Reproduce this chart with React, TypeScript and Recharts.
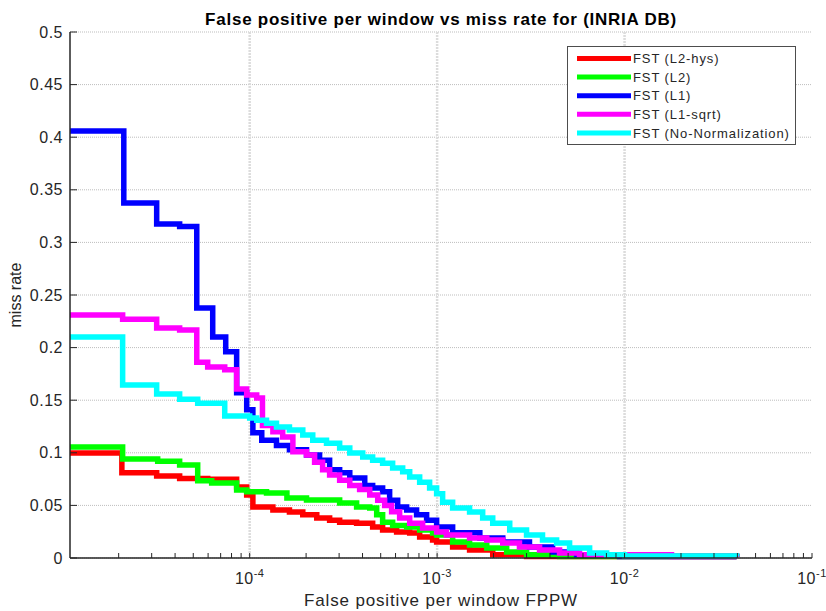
import React from 'react';
import {
  LineChart, Line, XAxis, YAxis, CartesianGrid, Legend, Customized,
} from 'recharts';

// ---------- data ----------
const FPPW_L2HYS = [1.1e-5, 2.08e-5, 3.19e-5, 4.23e-5, 5.97e-5, 8.52e-5, 9.64e-5, 1.04e-4, 1.33e-4, 1.63e-4, 1.92e-4, 2.28e-4, 2.67e-4, 3.02e-4, 3.72e-4, 4.53e-4, 5.12e-4, 6.08e-4, 7.14e-4, 8.07e-4, 9.46e-4, 9.94e-4, 1.21e-3, 1.49e-3, 1.98e-3, 3.0e-3, 3.96e-2];
const MISS_L2HYS = [0.0998, 0.081, 0.078, 0.0755, 0.0748, 0.0675, 0.06, 0.0485, 0.0456, 0.0437, 0.041, 0.038, 0.036, 0.034, 0.033, 0.0295, 0.0266, 0.0247, 0.0238, 0.02, 0.0171, 0.0152, 0.0105, 0.0076, 0.003, 0.0015, 0.001];

const FPPW_L2 = [1.1e-5, 2.1e-5, 3.23e-5, 4.23e-5, 5.28e-5, 6.27e-5, 8.52e-5, 9.64e-5, 1.23e-4, 1.58e-4, 2.01e-4, 3.02e-4, 3.72e-4, 4.37e-4, 4.76e-4, 5.12e-4, 5.79e-4, 6.88e-4, 8.07e-4, 9.46e-4, 9.94e-4, 1.21e-3, 1.49e-3, 1.84e-3, 2.35e-3, 3.0e-3, 4.5e-3, 3.96e-2];
const MISS_L2 = [0.1055, 0.094, 0.092, 0.0884, 0.0735, 0.0713, 0.0646, 0.063, 0.0618, 0.057, 0.0551, 0.0523, 0.0485, 0.0475, 0.041, 0.034, 0.031, 0.0295, 0.0266, 0.0238, 0.0219, 0.0152, 0.0124, 0.0095, 0.0057, 0.003, 0.0015, 0.001];

const FPPW_L1 = [1.1e-5, 2.13e-5, 3.19e-5, 4.23e-5, 5.22e-5, 6.35e-5, 7.45e-5, 8.52e-5, 9.64e-5, 1.04e-4, 1.16e-4, 1.39e-4, 1.63e-4, 2.01e-4, 2.36e-4, 2.67e-4, 3.02e-4, 3.42e-4, 4.11e-4, 4.53e-4, 5.12e-4, 5.58e-4, 6.16e-4, 6.88e-4, 7.77e-4, 8.79e-4, 9.94e-4, 1.21e-3, 1.69e-3, 2.24e-3, 3.11e-3, 4.13e-3, 5.55e-3, 9.4e-3, 3.96e-2];
const MISS_L1 = [0.406, 0.3375, 0.3175, 0.315, 0.2376, 0.21, 0.196, 0.157, 0.141, 0.119, 0.112, 0.107, 0.103, 0.098, 0.093, 0.084, 0.081, 0.076, 0.069, 0.0665, 0.063, 0.055, 0.0485, 0.0456, 0.041, 0.036, 0.0295, 0.024, 0.019, 0.0152, 0.0105, 0.0057, 0.003, 0.0015, 0.001];

const FPPW_L1SQRT = [1.1e-5, 2.1e-5, 3.19e-5, 4.23e-5, 5.22e-5, 5.97e-5, 7.36e-5, 8.52e-5, 9.64e-5, 1.09e-4, 1.17e-4, 1.33e-4, 1.5e-4, 1.7e-4, 2.01e-4, 2.22e-4, 2.45e-4, 2.67e-4, 3.02e-4, 3.42e-4, 3.86e-4, 4.37e-4, 4.82e-4, 5.25e-4, 5.72e-4, 6.31e-4, 7.14e-4, 8.37e-4, 9.94e-4, 1.12e-3, 1.49e-3, 1.84e-3, 2.24e-3, 2.75e-3, 3.52e-3, 4.5e-3, 5.75e-3, 1.78e-2, 3.96e-2];
const MISS_L1SQRT = [0.231, 0.227, 0.2186, 0.2167, 0.186, 0.1815, 0.179, 0.1606, 0.155, 0.152, 0.126, 0.12, 0.115, 0.101, 0.098, 0.091, 0.084, 0.079, 0.074, 0.069, 0.065, 0.06, 0.055, 0.05, 0.044, 0.038, 0.033, 0.0285, 0.0247, 0.0219, 0.019, 0.017, 0.0143, 0.0105, 0.0076, 0.0048, 0.003, 0.0015, 0.001];

const FPPW_NONORM = [1.1e-5, 2.1e-5, 3.19e-5, 4.23e-5, 5.28e-5, 7.36e-5, 1.0e-4, 1.09e-4, 1.23e-4, 1.39e-4, 1.63e-4, 1.92e-4, 2.17e-4, 2.57e-4, 3.02e-4, 3.42e-4, 4.01e-4, 4.53e-4, 5.12e-4, 5.79e-4, 6.55e-4, 7.14e-4, 8.07e-4, 9.12e-4, 9.94e-4, 1.07e-3, 1.21e-3, 1.49e-3, 1.75e-3, 1.98e-3, 2.44e-3, 3.0e-3, 3.65e-3, 4.34e-3, 5.09e-3, 6.51e-3, 8.02e-3, 1.0e-2, 3.96e-2];
const MISS_NONORM = [0.21, 0.1645, 0.156, 0.151, 0.147, 0.135, 0.133, 0.131, 0.128, 0.1245, 0.1217, 0.117, 0.112, 0.109, 0.1046, 0.0998, 0.096, 0.093, 0.09, 0.0855, 0.082, 0.077, 0.072, 0.0665, 0.061, 0.053, 0.0475, 0.0437, 0.038, 0.033, 0.0266, 0.0219, 0.0171, 0.0143, 0.0095, 0.0048, 0.003, 0.002, 0.0015];

const SERIES_NAMES = ['FST (L2-hys)', 'FST (L2)', 'FST (L1)', 'FST (L1-sqrt)', 'FST (No-Normalization)'];
const SERIES_COLORS = ['#ff0000', '#00ff00', '#0000ff', '#ff00ff', '#00ffff'];

const X_DOMAIN: [number, number] = [1.1e-5, 0.1];
const X_MAJOR = [1e-4, 1e-3, 1e-2, 1e-1];
const X_MINOR = [2e-5, 3e-5, 4e-5, 5e-5, 6e-5, 7e-5, 8e-5, 9e-5, 2e-4, 3e-4, 4e-4, 5e-4, 6e-4, 7e-4, 8e-4, 9e-4, 2e-3, 3e-3, 4e-3, 5e-3, 6e-3, 7e-3, 8e-3, 9e-3, 2e-2, 3e-2, 4e-2, 5e-2, 6e-2, 7e-2, 8e-2, 9e-2];
const X_TICKS = [...X_MINOR, ...X_MAJOR].sort((a, b) => a - b);
const X_GRID = [1e-4, 1e-3, 1e-2];
const Y_TICKS = [0, 0.05, 0.1, 0.15, 0.2, 0.25, 0.3, 0.35, 0.4, 0.45, 0.5];

const TITLE = 'False positive per window vs miss rate for (INRIA DB)';
const X_LABEL = 'False positive per window FPPW';
const Y_LABEL = 'miss rate';

const zip = (xs: number[], ys: number[]) => xs.map((x, i) => ({ x, y: ys[i] }));
const SERIES_DATA = [
  zip(FPPW_L2HYS, MISS_L2HYS),
  zip(FPPW_L2, MISS_L2),
  zip(FPPW_L1, MISS_L1),
  zip(FPPW_L1SQRT, MISS_L1SQRT),
  zip(FPPW_NONORM, MISS_NONORM),
];

const FONT = '"Liberation Sans", Arial, Helvetica, sans-serif';
const AXIS_COLOR = '#262626';

const XTick = (props: any) => {
  const { x, y, payload } = props;
  const lg = Math.log10(payload.value);
  const e = Math.round(lg);
  if (Math.abs(lg - e) > 1e-6) return null;
  return (
    <text x={x} y={y} dy={12} textAnchor="middle" fill={AXIS_COLOR} fontSize={16} fontFamily={FONT} style={{ letterSpacing: 0.5 }}>
      <tspan>10</tspan>
      <tspan dy={-7} fontSize={11}>{String(e)}</tspan>
    </text>
  );
};

const LegendBox = () => (
  <div style={{ width: 229, height: 99, border: '1px solid #4d4d4d', background: '#fff', boxSizing: 'border-box' }}>
    <svg width={227} height={97} style={{ display: 'block' }}>
      {SERIES_NAMES.map((name, i) => {
        const cy = 11.5 + i * 18.6;
        return (
          <g key={name}>
            <line x1={9} x2={63} y1={cy} y2={cy} stroke={SERIES_COLORS[i]} strokeWidth={5} />
            <text x={65} y={cy + 4.7} fontSize={13} fontFamily={FONT} fill={AXIS_COLOR} style={{ letterSpacing: 0.9 }}>{name}</text>
          </g>
        );
      })}
    </svg>
  </div>
);

const Texts = () => (
  <g>
    <text x={441} y={25} textAnchor="middle" fontWeight="bold" fontSize={17} fontFamily={FONT} fill="#000" style={{ letterSpacing: 0.75 }}>{TITLE}</text>
    <text x={441} y={606} textAnchor="middle" fontSize={17} fontFamily={FONT} fill={AXIS_COLOR} style={{ letterSpacing: 0.85 }}>{X_LABEL}</text>
    <text x={21} y={295} textAnchor="middle" fontSize={16} fontFamily={FONT} fill={AXIS_COLOR} transform="rotate(-90 21 295)">{Y_LABEL}</text>
  </g>
);

export default function App() {
  return (
    <div style={{ position: 'absolute', left: 0, top: 0, background: '#fff' }}>
      <LineChart width={826} height={611} margin={{ top: 32, right: 14, bottom: 0, left: 0 }}>
        <CartesianGrid vertical={false} stroke="#bdbdbd" strokeDasharray="1 1" />
        <CartesianGrid horizontal={false} verticalValues={X_GRID} stroke="#dcdcdc" strokeWidth={2.5} strokeDasharray="2 1" />
        <XAxis
          dataKey="x" type="number" scale="log" domain={X_DOMAIN} allowDataOverflow
          ticks={X_TICKS} interval={0} tickSize={-5} tickMargin={19} height={53}
          tick={<XTick />} axisLine={{ stroke: AXIS_COLOR, strokeWidth: 1.5 }} tickLine={{ stroke: AXIS_COLOR }}
        />
        <XAxis
          xAxisId="top" orientation="top" dataKey="x" type="number" scale="log" domain={X_DOMAIN} allowDataOverflow
          ticks={X_TICKS} interval={0} tickSize={-5} height={0} tick={false}
          axisLine={{ stroke: AXIS_COLOR, strokeWidth: 1.5 }} tickLine={{ stroke: AXIS_COLOR }}
        />
        <YAxis
          type="number" domain={[0, 0.5]} ticks={Y_TICKS} interval={0} width={70}
          tickSize={-7} tickMargin={14}
          tick={{ fill: AXIS_COLOR, fontSize: 16, fontFamily: FONT, style: { letterSpacing: 0.5 } }}
          axisLine={{ stroke: AXIS_COLOR, strokeWidth: 1.5 }} tickLine={{ stroke: AXIS_COLOR }}
        />
        <YAxis
          yAxisId="right" orientation="right" type="number" domain={[0, 0.5]} ticks={Y_TICKS} interval={0}
          width={0} tickSize={-7} tick={false}
          axisLine={{ stroke: AXIS_COLOR, strokeWidth: 1.5 }} tickLine={{ stroke: AXIS_COLOR }}
        />
        {SERIES_DATA.map((d, i) => (
          <Line
            key={SERIES_NAMES[i]} data={d} dataKey="y" name={SERIES_NAMES[i]} type="stepAfter"
            stroke={SERIES_COLORS[i]} strokeWidth={5.5} dot={false} activeDot={false}
            isAnimationActive={false} strokeLinejoin="miter" strokeLinecap="butt"
          />
        ))}
        <Legend
          layout="horizontal" verticalAlign="middle" align="center"
          content={() => <LegendBox />}
          wrapperStyle={{ position: 'absolute', left: 567, top: 46, width: 229, height: 99, margin: 0, padding: 0 }}
        />
        <Customized component={Texts} />
      </LineChart>
    </div>
  );
}
